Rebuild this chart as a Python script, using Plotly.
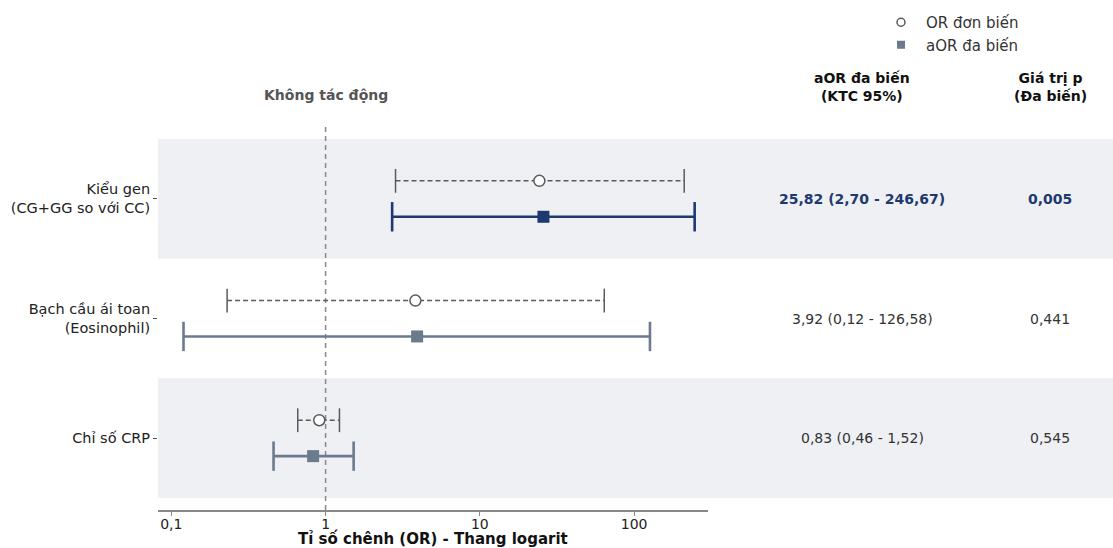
import math
import plotly.graph_objects as go

# Forest plot data (top row first)
categories = ["Kiểu gen<br>(CG+GG so với CC)", "Bạch cầu ái toan<br>(Eosinophil)", "Chỉ số CRP"]
or_est = [24.3, 3.82, 0.91]
or_lo = [2.84, 0.23, 0.66]
or_hi = [211.0, 64.0, 1.23]
aor_est = [25.82, 3.92, 0.83]
aor_lo = [2.70, 0.12, 0.46]
aor_hi = [246.67, 126.58, 1.52]
p_vals = [0.005, 0.441, 0.545]
x_ticks = [0.1, 1, 10, 100]
x_tick_text = ["0,1", "1", "10", "100"]

FONT = "DejaVu Sans"
NAVY = "#1d3a6e"
SLATE = "#6b7a8c"
GRAY = "#5a5a5a"
BAND = "#eef0f4"

W, H = 1113, 548
ML, MR, MT, MB = 158, 0, 127, 38
plot_right_px = 708
x_domain_end = (plot_right_px - ML) / (W - ML - MR)


def fmt(v):
    return f"{v:.2f}".replace(".", ",")


def px_to_paper_x(px):
    return (px - ML) / (W - ML - MR)


def px_to_paper_y(py):
    return (H - MB - py) / (H - MT - MB)


n = len(categories)
ypos = [n - 1 - i for i in range(n)]
off = 0.15

fig = go.Figure()

# Reference line at OR = 1
fig.add_trace(go.Scatter(
    x=[1, 1], y=[-0.6, n - 1 + 0.6], mode="lines",
    line=dict(color="#888888", width=1.5, dash="5px,4px"),
    showlegend=False, hoverinfo="skip"))

for i in range(n):
    sig = p_vals[i] < 0.05
    col = NAVY if sig else SLATE
    yo = ypos[i] + off
    ya = ypos[i] - off
    # univariate OR: dashed CI with caps
    fig.add_trace(go.Scatter(
        x=[or_lo[i], or_hi[i]], y=[yo, yo], mode="lines+markers",
        line=dict(color=GRAY, width=1.5, dash="5px,3px"),
        marker=dict(symbol="line-ns-open", size=17, line=dict(color=GRAY, width=1.5)),
        showlegend=False, hoverinfo="skip"))
    fig.add_trace(go.Scatter(
        x=[or_est[i]], y=[yo], mode="markers",
        marker=dict(symbol="circle", size=11, color="white", line=dict(color=GRAY, width=1.5)),
        showlegend=False))
    # adjusted aOR: solid CI with caps
    fig.add_trace(go.Scatter(
        x=[aor_lo[i], aor_hi[i]], y=[ya, ya], mode="lines+markers",
        line=dict(color=col, width=2.6),
        marker=dict(symbol="line-ns-open", size=21, line=dict(color=col, width=2.6)),
        showlegend=False, hoverinfo="skip"))
    fig.add_trace(go.Scatter(
        x=[aor_est[i]], y=[ya], mode="markers",
        marker=dict(symbol="square", size=12, color=col, line=dict(width=0)),
        showlegend=False))

# Legend entries
fig.add_trace(go.Scatter(
    x=[None], y=[None], mode="markers", name="OR đơn biến",
    marker=dict(symbol="circle", size=8, color="white", line=dict(color=GRAY, width=1.5))))
fig.add_trace(go.Scatter(
    x=[None], y=[None], mode="markers", name="aOR đa biến",
    marker=dict(symbol="square", size=8, color=SLATE)))

shapes = []
for i in range(n):
    if i % 2 == 0:
        shapes.append(dict(type="rect", xref="paper", yref="y", x0=0, x1=1,
                           y0=ypos[i] - 0.5, y1=ypos[i] + 0.5,
                           fillcolor=BAND, line=dict(width=0), layer="below"))

annotations = []
# Column headers
for hx, htxt in [(862, "<b>aOR đa biến</b><br><b>(KTC 95%)</b>"),
                 (1050, "<b>Giá trị p</b><br><b>(Đa biến)</b>")]:
    annotations.append(dict(xref="paper", yref="paper", x=px_to_paper_x(hx), y=px_to_paper_y(87),
                            xanchor="center", yanchor="middle",
                            text=htxt, showarrow=False,
                            font=dict(family=FONT, size=14, color="#111111"), align="center"))
annotations.append(dict(xref="x", yref="paper", x=math.log10(1.0), y=px_to_paper_y(95),
                        xanchor="center", yanchor="middle",
                        text="<b>Không tác động</b>", showarrow=False,
                        font=dict(family=FONT, size=14, color="#555555")))
# Axis title
annotations.append(dict(xref="paper", yref="paper", x=x_domain_end / 2, y=px_to_paper_y(538),
                        xanchor="center", yanchor="middle",
                        text="<b>Tỉ số chênh (OR) - Thang logarit</b>", showarrow=False,
                        font=dict(family=FONT, size=15, color="#111111")))
for i in range(n):
    sig = p_vals[i] < 0.05
    col = NAVY if sig else "#333333"
    ci_txt = f"{fmt(aor_est[i])} ({fmt(aor_lo[i])} - {fmt(aor_hi[i])})"
    p_txt = f"{p_vals[i]:.3f}".replace(".", ",")
    if sig:
        ci_txt = f"<b>{ci_txt}</b>"
        p_txt = f"<b>{p_txt}</b>"
    for cx, txt in [(862, ci_txt), (1050, p_txt)]:
        annotations.append(dict(xref="paper", yref="y", x=px_to_paper_x(cx), y=ypos[i],
                                xanchor="center", yanchor="middle",
                                text=txt, showarrow=False,
                                font=dict(family=FONT, size=14, color=col)))

fig.update_layout(
    width=W, height=H,
    margin=dict(l=ML, r=MR, t=MT, b=MB),
    paper_bgcolor="white", plot_bgcolor="rgba(0,0,0,0)",
    font=dict(family=FONT, size=14, color="#222222"),
    shapes=shapes, annotations=annotations,
    legend=dict(x=px_to_paper_x(876), y=px_to_paper_y(6), xanchor="left", yanchor="top",
                font=dict(family=FONT, size=15, color="#333333"),
                bgcolor="rgba(0,0,0,0)", tracegroupgap=0, itemwidth=40),
    xaxis=dict(type="log", domain=[0, x_domain_end],
               range=[math.log10(0.082), math.log10(301)],
               tickvals=x_ticks, ticktext=x_tick_text,
               showgrid=False, zeroline=False, showline=True, linecolor="#888888", linewidth=1.5,
               ticks="outside", ticklen=4, tickcolor="#888888", tickwidth=1.2,
               ticklabelstandoff=-4,
               tickfont=dict(family=FONT, size=14, color="#222222")),
    yaxis=dict(range=[-0.6, n - 1 + 0.6], tickvals=ypos, ticktext=categories,
               showgrid=False, zeroline=False, showline=False,
               ticks="outside", ticklen=4, tickcolor="#555555",
               tickfont=dict(family=FONT, size=14.5, color="#222222")),
)

fig.write_html("out.html")
